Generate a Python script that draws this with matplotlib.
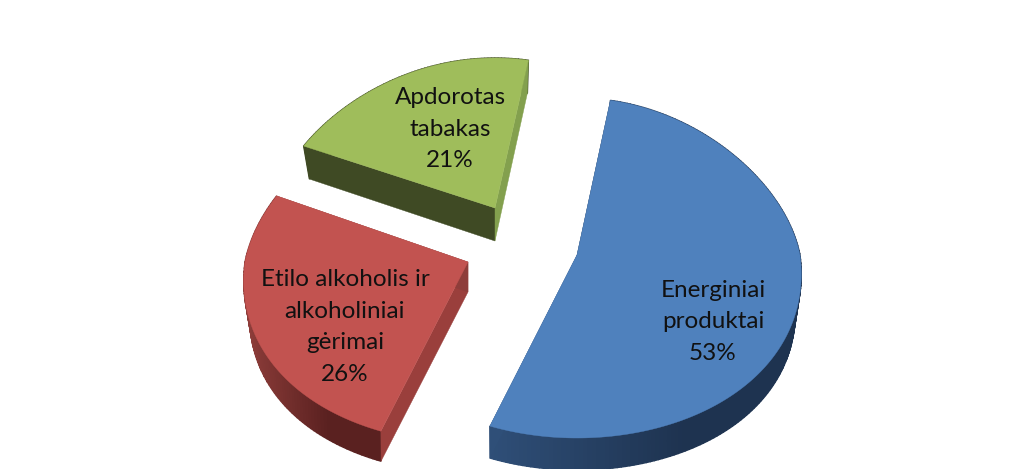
import numpy as np
import matplotlib
matplotlib.use("Agg")
import matplotlib.pyplot as plt
from matplotlib.colors import to_rgb
from matplotlib.patches import Polygon

categories = ["Energiniai\nproduktai",
              "Etilo alkoholis ir\nalkoholiniai\ngėrimai",
              "Apdorotas\ntabakas"]
values = [53, 26, 21]
start_angle = 10

top_colors = ["#4F81BD", "#C25350", "#9FBD5B"]
apexes = [(577, 255), (468, 262), (495, 208)]
radii_up = [157, 160, 150]
radii_down = [183, 181, 170]
depths = [32, 30, 33]
RX = 223
PERSP_UP = 0.14
PERSP_DOWN = 0.107
label_pos = [(713, 322), (345, 327), (450, 129)]
# outer wall colours (left end, right end of the rim)
wall_colors = [("#2F4F78", "#1E3350"), ("#8E3D3A", "#5A2120"), ("#3F4A24", "#3F4A24")]
# cut faces: at the start and at the end of each slice's sweep
start_face = ["#1E3350", "#9A3F3C", "#3F4A24"]
end_face = ["#2F4F78", "#8E3D3A", "#83A04E"]

fig = plt.figure(figsize=(10.19, 4.69), dpi=100)
ax = fig.add_axes([0, 0, 1, 1])
ax.set_xlim(0, 1019)
ax.set_ylim(469, 0)
ax.axis("off")


def rim(t, apex, up, down, lower=False, dy=0.0):
    t = np.asarray(t)
    c = np.cos(t)
    ry = np.where(c >= 0, up, down)
    p = np.where(c >= 0, 1 - PERSP_UP * c, 1 - PERSP_DOWN * c)
    scale = 0.97 + 0.03 * np.clip(-c, 0, 1) if lower else 1.0
    return apex[0] + scale * RX * p * np.sin(t), apex[1] + dy - ry * c


def draw_slice(a0, a1, i, z):
    apex, up, down, depth = apexes[i], radii_up[i], radii_down[i], depths[i]
    t = np.radians(np.linspace(a0, a1, int(max(a1 - a0, 10)) + 1))
    x, y = rim(t, apex, up, down)
    xb, yb = rim(t, apex, up, down, lower=True, dy=depth)
    c0, c1 = map(np.array, map(to_rgb, wall_colors[i]))
    # outer wall
    xmin, xmax = x.min(), x.max()
    for k in range(len(t) - 1):
        f = (x[k] - xmin) / max(xmax - xmin, 1)
        col = c0 + (c1 - c0) * min(1, f * 1.6)
        ax.add_patch(Polygon([(x[k], y[k]), (x[k + 1], y[k + 1]), (xb[k + 1], yb[k + 1]), (xb[k], yb[k])],
                             fc=col, ec=col, lw=1.0, zorder=z))
    # cut faces
    for j, face in [(0, start_face[i]), (-1, end_face[i])]:
        ax.add_patch(Polygon([apex, (x[j], y[j]), (xb[j], yb[j]), (apex[0], apex[1] + depth)],
                             fc=face, ec=face, lw=0.3, zorder=z + 0.1))
    ax.add_patch(Polygon(np.r_[[apex], np.c_[x, y]], fc=top_colors[i], ec=top_colors[i],
                         lw=0.3, zorder=z + 0.2))


total = sum(values)
angle = start_angle
spans = []
for v in values:
    spans.append((angle, angle + 360 * v / total))
    angle = spans[-1][1]

for i in [2, 1, 0]:
    draw_slice(spans[i][0], spans[i][1], i, 2 + (2 - i))
    ax.text(label_pos[i][0], label_pos[i][1], f"{categories[i]}\n{values[i]}%",
            ha="center", va="center", fontsize=17.5, family="Lato", color="#111111",
            linespacing=1.62, zorder=10)

fig.savefig("out.png", dpi=100, facecolor="white")
